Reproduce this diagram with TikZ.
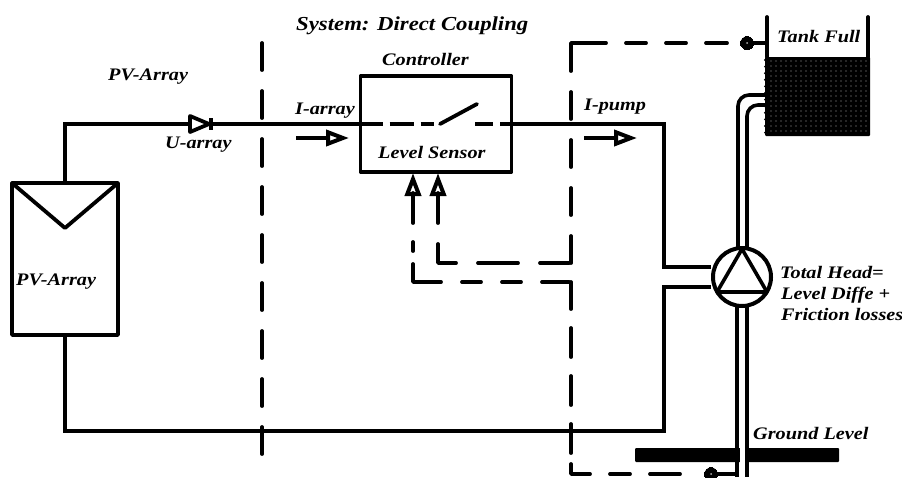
\documentclass[tikz,border=0pt]{standalone}
\usepackage{fontspec}
\setmainfont[FakeStretch=1.15]{Liberation Serif}
\usetikzlibrary{arrows.meta,shapes.geometric}

\begin{document}
\begin{tikzpicture}[x=1pt,y=-1pt,
  lbl/.style={font=\bfseries\itshape\fontsize{17.6}{20}\selectfont, inner sep=0pt, anchor=base west},
  wire/.style={draw=black, line width=3.6pt, line join=miter},
  boxv/.style={rectangle, draw=black, line width=3.8pt, fill=none, line join=round, outer sep=0pt},
  ctrldash/.style={draw=black, line width=3.8pt},
  sigdash/.style={draw=black, line width=3.8pt, line cap=round, line join=round},
  sensorv/.style={circle, draw=black, fill=black, line width=0pt, minimum size=13pt, inner sep=0pt},
  openarrow/.style={draw=black, line width=4pt, -{Triangle[open,length=23pt,width=16pt]}},
  pipe/.style={draw=black, line width=3.6pt, rounded corners=11pt}
]
\useasboundingbox (0,0) rectangle (902,477);

% ground bar sits under the pipes
\node[rectangle, fill=black, rounded corners=1pt, minimum width=204pt, minimum height=14pt, inner sep=0pt] (gbar) at (737,455) {};
\fill[white] (740,447) rectangle (745,463);

% tank
\node[rectangle, fill=black, rounded corners=1pt, minimum width=105pt, minimum height=79pt, inner sep=0pt] (water) at (817.5,96.5) {};
\foreach \i in {0,...,19}
  \foreach \j in {0,...,14}
    \fill[white!65!black] (771+\i*5,61+\j*5) circle (0.55pt);
\foreach \j in {0,...,11}
  \fill[black] (765.5,60+\j*6.6) circle (1.6pt);
\coordinate (tankTL) at (767,17);
\coordinate (tankTR) at (868,17);
\coordinate (tankBL) at (767,57);
\coordinate (tankBR) at (868,57);
\draw[wire, line width=3.8pt, line cap=round] (tankTL) -- (tankBL);
\draw[wire, line width=3.8pt, line cap=round] (tankTR) -- (tankBR);

% pipes and pump
\coordinate (pipeOa) at (766,95);
\coordinate (pipeOb) at (738,95);
\coordinate (pipeOc) at (738,250);
\coordinate (pipeIa) at (766,105);
\coordinate (pipeIb) at (747,105);
\coordinate (pipeIc) at (747,250);
\coordinate (pipeOd) at (737,305);
\coordinate (pipeOe) at (737,477);
\coordinate (pipeId) at (747,305);
\coordinate (pipeIe) at (747,477);
\draw[pipe] (pipeOa) -- (pipeOb) -- (pipeOc);
\draw[pipe] (pipeIa) -- (pipeIb) -- (pipeIc);
\draw[wire] (pipeOd) -- (pipeOe);
\draw[wire] (pipeId) -- (pipeIe);

\node[circle, draw=black, fill=white, line width=4pt, minimum size=58pt, inner sep=0pt] (pump) at (742,277) {};
\coordinate (triA) at (742,249);
\coordinate (triB) at (717,292);
\coordinate (triC) at (767,292);
\draw[wire, line join=round] (triA) -- (triB) -- (triC) -- cycle;

% pv array and controller
\node[boxv] (pv) at (65,259) [minimum width=106pt, minimum height=152pt, inner sep=0pt] {};
\coordinate (vtip) at (65,228);
\draw[wire, line width=3.8pt, line join=round, line cap=round] (pv.north west) -- (vtip) -- (pv.north east);
\node[boxv] (ctrl) at (436,124) [minimum width=151pt, minimum height=96pt, inner sep=0pt] {};

% power wiring
\coordinate (topL) at (65,124);
\coordinate (topR) at (664,124);
\coordinate (pumpA) at (664,267);
\coordinate (pumpB) at (664,287);
\coordinate (botR) at (664,431);
\coordinate (botL) at (65,431);
\draw[wire] (pv.north) -- (topL) -- (ctrl.west);
\draw[wire] (ctrl.east) -- (topR) -- (pumpA) -- (pump.west |- pumpA);
\draw[wire] (pump.west |- pumpB) -- (pumpB) -- (botR) -- (botL) -- (pv.south);

% diode
\coordinate (dioA) at (190,116);
\coordinate (dioB) at (190,132);
\coordinate (dioC) at (209,124);
\coordinate (dioD) at (211,118);
\coordinate (dioE) at (211,130);
\draw[wire, fill=white, line width=3.8pt, line join=round] (dioA) -- (dioB) -- (dioC) -- cycle;
\draw[wire, line width=4pt] (dioD) -- (dioE);

% switch inside controller
\coordinate (swA) at (440,124);
\coordinate (swB) at (477,104);
\coordinate (swC) at (475,124);
\draw[ctrldash, line cap=round] (swA) -- (swB);
\draw[ctrldash, dash pattern=on 22pt off 7pt on 24pt off 7pt on 13pt off 200pt] (ctrl.west) -- (swA);
\draw[ctrldash, dash pattern=on 18pt off 7pt on 12pt off 200pt] (swC) -- (ctrl.east);

% current arrows
\coordinate (iaA) at (296,138);
\coordinate (iaB) at (349,138);
\coordinate (ipA) at (584,138);
\coordinate (ipB) at (637,138);
\draw[openarrow] (iaA) -- (iaB);
\draw[openarrow] (ipA) -- (ipB);

% level signals
\coordinate (sigA) at (413,193);
\coordinate (sigB) at (438,193);
\coordinate (tipA) at (413,173);
\coordinate (tipB) at (438,173);
\coordinate (sigAc) at (413,282);
\coordinate (sigBc) at (438,263);
\coordinate (sigAd) at (571,282);
\coordinate (sigBd) at (571,263);
\coordinate (sigUp) at (571,43);
\coordinate (sigDn) at (571,474);
\draw[openarrow] (sigA) -- (tipA);
\draw[openarrow] (sigB) -- (tipB);
\draw[sigdash, dash pattern=on 30pt off 19pt on 9pt off 13pt on 46pt off 21pt on 19pt off 21pt on 19pt off 21pt on 27pt] (sigA) -- (sigAc) -- (sigAd);
\draw[sigdash, dash pattern=on 30pt off 21pt on 37pt off 22pt on 40pt off 22pt on 29pt] (sigB) -- (sigBc) -- (sigBd);

\node[sensorv] (tanksens) at (747,43) {};
\node[sensorv] (gndsens) at (711,474) {};
\fill[white!70!black] (tanksens) circle (1pt);
\fill[white!70!black] (gndsens) circle (1pt);
\draw[wire] (tanksens) -- (tankBL |- tanksens);
\draw[wire] (gndsens) -- (pipeOe |- gndsens);
\draw[sigdash, dash pattern=on 27pt off 21pt on 27pt off 21pt on 27pt off 21pt on 27pt off 21pt on 63pt off 20pt on 20pt off 20pt on 20pt off 20pt on 21pt off 100pt] (sigBd) -- (sigUp) -- (tanksens);
\draw[sigdash, dash pattern=on 27pt off 19pt on 29pt off 19pt on 29pt off 19pt on 29pt off 11pt on 29pt off 20pt on 20pt off 20pt on 30pt off 100pt] (sigAd) -- (sigDn) -- (gndsens);

% system boundary
\coordinate (bndT) at (262,43);
\coordinate (bndB) at (262,456);
\draw[sigdash, dash pattern=on 27pt off 21pt] (bndT) -- (bndB);

% labels
\node[lbl, font=\bfseries\itshape\fontsize{19.8}{22}\selectfont] (ttl) at (296,30) {System: Direct Coupling};
\node[lbl] (lctrl) at (382,65) {Controller};
\node[lbl] (lpvt) at (108,80) {PV-Array};
\node[lbl] (lu) at (165,148) {U-array};
\node[lbl] (lpv) at (16,285) {PV-Array};
\node[lbl] (lia) at (295,114) {I-array};
\node[lbl] (lip) at (584,110) {I-pump};
\node[lbl] (lls) at (378,158) {Level Sensor};
\node[lbl] (ltank) at (777,42) {Tank Full};
\node[lbl] (lh1) at (780,278) {Total Head=};
\node[lbl] (lh2) at (781,299) {Level Diffe +};
\node[lbl] (lh3) at (781,320) {Friction losses};
\node[lbl] (lgnd) at (753,439) {Ground Level};

\end{tikzpicture}
\end{document}
